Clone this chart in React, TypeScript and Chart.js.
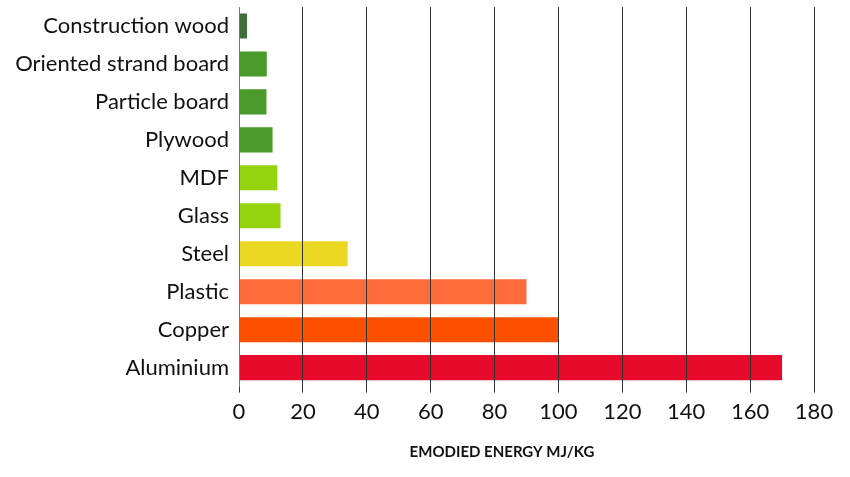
import React, { useEffect, useRef } from "react";
import { Chart, registerables } from "chart.js";

Chart.register(...registerables);

const categories = [
  "Construction wood",
  "Oriented strand board",
  "Particle board",
  "Plywood",
  "MDF",
  "Glass",
  "Steel",
  "Plastic",
  "Copper",
  "Aluminium",
];
const energyValues = [2.5, 8.7, 8.6, 10.5, 12, 13, 34, 90, 100, 170];
const barColors = [
  "#3e6e39",
  "#4a9a2c",
  "#4a9a2c",
  "#4a9a2c",
  "#96d30f",
  "#96d30f",
  "#ebd822",
  "#fd6c3b",
  "#fd5000",
  "#e70b2b",
];
const xTicks = [0, 20, 40, 60, 80, 100, 120, 140, 160, 180];
const axisTitle = "EMODIED ENERGY MJ/KG";

const FONT = "Lato, 'Open Sans', sans-serif";

export default function App() {
  const ref = useRef<HTMLCanvasElement | null>(null);

  useEffect(() => {
    document.body.style.margin = "0";
    const ctx = ref.current!;
    const titlePlugin = {
      id: "bottomTitle",
      afterDraw(chart: any) {
        const c = chart.ctx;
        c.save();
        c.font = `bold 15px ${FONT}`;
        c.fillStyle = "#111";
        c.textAlign = "center";
        c.textBaseline = "middle";
        c.fillText(axisTitle, 502, 452);
        c.restore();
      },
    };
    const chart = new Chart(ctx, {
      type: "bar",
      data: {
        labels: categories,
        datasets: [
          {
            data: energyValues,
            backgroundColor: barColors,
            borderWidth: 0,
            barPercentage: 0.66,
            categoryPercentage: 1,
          },
        ],
      },
      options: {
        indexAxis: "y",
        animation: false,
        responsive: false,
        maintainAspectRatio: false,
        layout: { padding: { top: 7, right: 36, bottom: 46, left: 0 } },
        plugins: {
          legend: { display: false },
          tooltip: { enabled: false },
        },
        scales: {
          x: {
            min: 0,
            max: 180,
            afterBuildTicks: (axis: any) => {
              axis.ticks = xTicks.map((v) => ({ value: v }));
            },
            grid: {
              color: "#333",
              lineWidth: 1,
              drawTicks: true,
              tickLength: 6,
              z: 1,
            },
            border: { display: false },
            ticks: {
              color: "#111",
              font: { family: FONT, size: 22 },
              padding: 6,
              maxRotation: 0,
            },
          },
          y: {
            grid: { display: false, drawTicks: false },
            border: { display: true, color: "#777", width: 1, z: 1 },
            ticks: {
              color: "#111",
              font: { family: FONT, size: 22 },
              padding: 10,
            },
            afterFit: (axis: any) => {
              axis.width = 239;
              axis.paddingTop = 0;
              axis.paddingBottom = 0;
            },
          },
        },
      },
      plugins: [titlePlugin],
    });
    return () => chart.destroy();
  }, []);

  return (
    <div style={{ width: 850, height: 477 }}>
      <canvas ref={ref} width={850} height={477} style={{ display: "block" }} />
    </div>
  );
}
